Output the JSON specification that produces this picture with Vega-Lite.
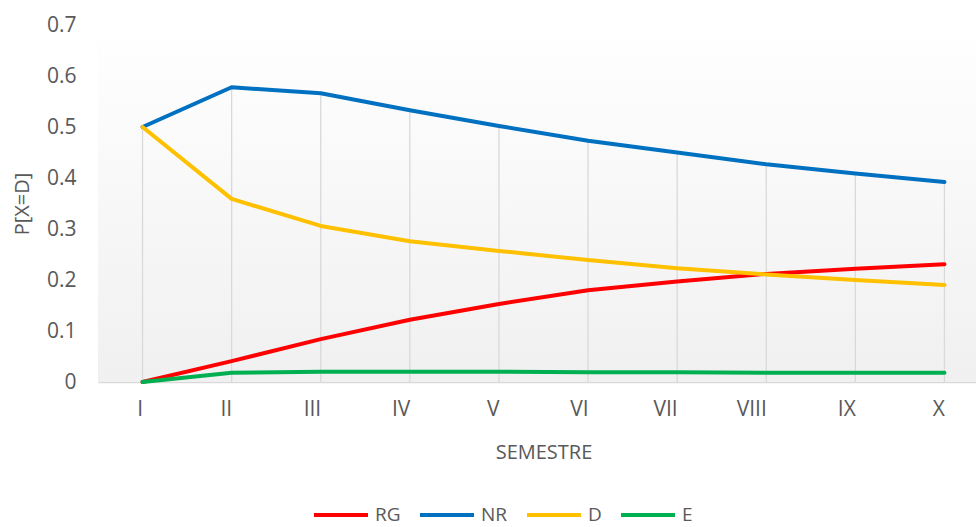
{
  "$schema": "https://vega.github.io/schema/vega-lite/v6.json",
  "autosize": {"type": "none"},
  "padding": {"left": 98, "top": 25, "right": 0, "bottom": 145},
  "width": 891,
  "height": 357,
  "background": "white",
  "config": {
    "font": "Open Sans",
    "view": {"stroke": null},
    "axis": {
      "labelColor": "#595959",
      "titleColor": "#595959",
      "labelFontSize": 21,
      "titleFontSize": 20,
      "titleFontWeight": "normal",
      "ticks": false,
      "grid": false
    },
    "legend": {
      "labelColor": "#595959",
      "labelFontSize": 19
    }
  },
  "layer": [
    {
      "data": {"values": [{}]},
      "mark": {
        "type": "rect",
        "color": {
          "x1": 0, "y1": 0, "x2": 0, "y2": 1,
          "gradient": "linear",
          "stops": [
            {"offset": 0, "color": "#ffffff"},
            {"offset": 1, "color": "#f0f0f0"}
          ]
        }
      },
      "encoding": {
        "x": {"value": 0},
        "x2": {"value": "width"},
        "y": {"value": 0},
        "y2": {"value": "height"}
      }
    },
    {
      "data": {"name": "prob"},
      "layer": [
        {
          "transform": [{"filter": "datum.serie === 'NR'"}],
          "mark": {"type": "rule", "color": "#d9d9d9", "strokeWidth": 1.3},
          "encoding": {
            "x": {"field": "semestre", "type": "ordinal", "sort": null},
            "y": {"field": "p", "type": "quantitative"},
            "y2": {"datum": 0}
          }
        },
        {
          "mark": {"type": "line", "strokeWidth": 4, "strokeCap": "round", "strokeJoin": "round"},
          "encoding": {
            "x": {
              "field": "semestre",
              "type": "ordinal",
              "sort": null,
              "scale": {"type": "point", "padding": 0.5},
              "axis": {
                "title": "SEMESTRE",
                "labelAngle": 0,
                "labelPadding": 27,
                "titlePadding": 23,
                "domain": true,
                "domainColor": "#d9d9d9",
                "domainWidth": 1.5
              }
            },
            "y": {
              "field": "p",
              "type": "quantitative",
              "scale": {"domain": [0, 0.7], "nice": false},
              "axis": {
                "title": "P[X=D]",
                "values": [0, 0.1, 0.2, 0.3, 0.4, 0.5, 0.6, 0.7],
                "format": "~g",
                "domain": false,
                "labelPadding": 22,
                "titlePadding": 14
              }
            },
            "color": {
              "field": "serie",
              "type": "nominal",
              "sort": null,
              "scale": {
                "domain": ["RG", "NR", "D", "E"],
                "range": ["#ff0000", "#0070c0", "#ffc000", "#00b050"]
              },
              "legend": {
                "title": null,
                "orient": "none",
                "direction": "horizontal",
                "legendX": 214,
                "legendY": 461,
                "symbolType": "stroke",
                "symbolSize": 2916,
                "symbolStrokeWidth": 4,
                "labelOffset": 5,
                "columnPadding": 11
              }
            }
          }
        }
      ]
    }
  ],
  "datasets": {
    "prob": [
      {"semestre": "I", "serie": "RG", "p": 0.0},
      {"semestre": "II", "serie": "RG", "p": 0.041},
      {"semestre": "III", "serie": "RG", "p": 0.084},
      {"semestre": "IV", "serie": "RG", "p": 0.122},
      {"semestre": "V", "serie": "RG", "p": 0.153},
      {"semestre": "VI", "serie": "RG", "p": 0.18},
      {"semestre": "VII", "serie": "RG", "p": 0.197},
      {"semestre": "VIII", "serie": "RG", "p": 0.212},
      {"semestre": "IX", "serie": "RG", "p": 0.222},
      {"semestre": "X", "serie": "RG", "p": 0.231},
      {"semestre": "I", "serie": "NR", "p": 0.5},
      {"semestre": "II", "serie": "NR", "p": 0.578},
      {"semestre": "III", "serie": "NR", "p": 0.566},
      {"semestre": "IV", "serie": "NR", "p": 0.533},
      {"semestre": "V", "serie": "NR", "p": 0.502},
      {"semestre": "VI", "serie": "NR", "p": 0.473},
      {"semestre": "VII", "serie": "NR", "p": 0.45},
      {"semestre": "VIII", "serie": "NR", "p": 0.427},
      {"semestre": "IX", "serie": "NR", "p": 0.409},
      {"semestre": "X", "serie": "NR", "p": 0.392},
      {"semestre": "I", "serie": "D", "p": 0.5},
      {"semestre": "II", "serie": "D", "p": 0.359},
      {"semestre": "III", "serie": "D", "p": 0.306},
      {"semestre": "IV", "serie": "D", "p": 0.276},
      {"semestre": "V", "serie": "D", "p": 0.257},
      {"semestre": "VI", "serie": "D", "p": 0.239},
      {"semestre": "VII", "serie": "D", "p": 0.223},
      {"semestre": "VIII", "serie": "D", "p": 0.211},
      {"semestre": "IX", "serie": "D", "p": 0.2},
      {"semestre": "X", "serie": "D", "p": 0.19},
      {"semestre": "I", "serie": "E", "p": 0.0},
      {"semestre": "II", "serie": "E", "p": 0.018},
      {"semestre": "III", "serie": "E", "p": 0.02},
      {"semestre": "IV", "serie": "E", "p": 0.02},
      {"semestre": "V", "serie": "E", "p": 0.02},
      {"semestre": "VI", "serie": "E", "p": 0.019},
      {"semestre": "VII", "serie": "E", "p": 0.019},
      {"semestre": "VIII", "serie": "E", "p": 0.018},
      {"semestre": "IX", "serie": "E", "p": 0.018},
      {"semestre": "X", "serie": "E", "p": 0.018}
    ]
  }
}
